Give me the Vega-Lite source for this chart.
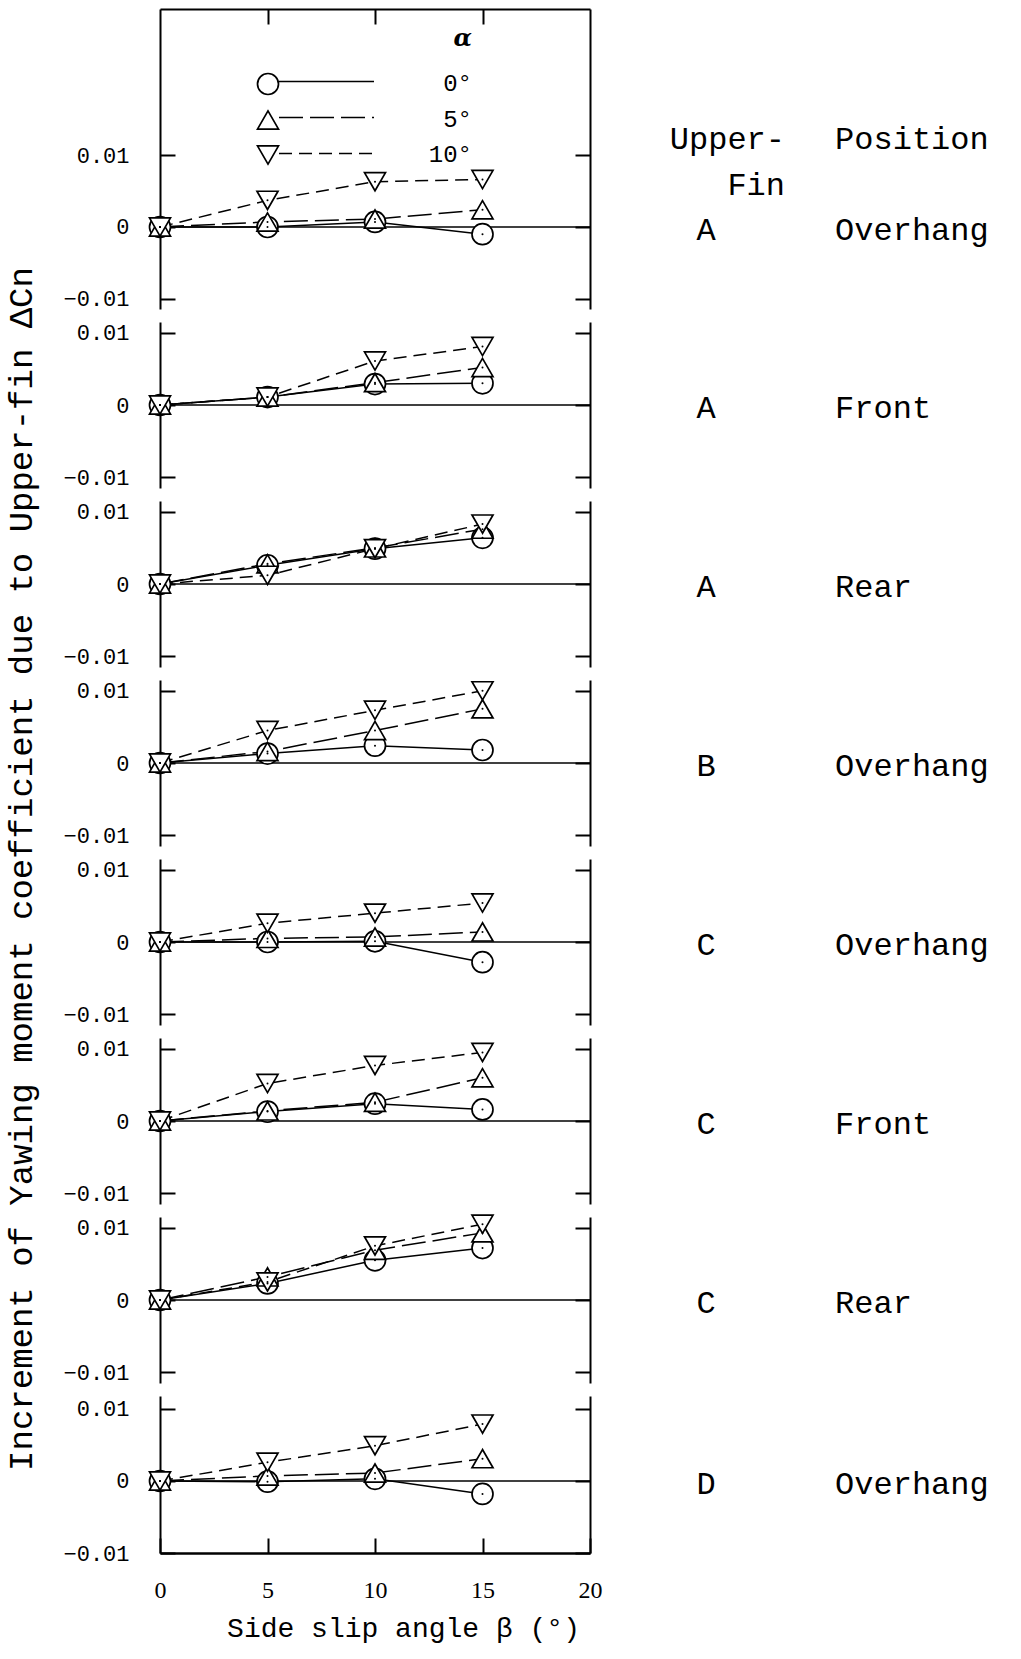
{
"$schema": "https://vega.github.io/schema/vega-lite/v6.json",
"background": "white",
"padding": {"left": 4, "top": 8, "right": 0, "bottom": 8},
"title": {"text": "Increment of Yawing moment coefficient due to Upper-fin ΔCn", "orient": "left", "anchor": "middle", "font": "Liberation Mono", "fontSize": 34, "fontWeight": "normal", "color": "black", "offset": 24, "dx": -44},
"config": {"view": {"stroke": null}, "axis": {"domainColor": "black", "tickColor": "black", "labelColor": "black", "titleColor": "black", "grid": false}},
"datasets": {
"main": [
{"panel":1,"alpha":0,"beta":0,"dcn":0},{"panel":1,"alpha":0,"beta":5,"dcn":0.0},{"panel":1,"alpha":0,"beta":10,"dcn":0.0007},{"panel":1,"alpha":0,"beta":15,"dcn":-0.001},
{"panel":1,"alpha":5,"beta":0,"dcn":0},{"panel":1,"alpha":5,"beta":5,"dcn":0.0007},{"panel":1,"alpha":5,"beta":10,"dcn":0.0011},{"panel":1,"alpha":5,"beta":15,"dcn":0.0024},
{"panel":1,"alpha":10,"beta":0,"dcn":0},{"panel":1,"alpha":10,"beta":5,"dcn":0.0037},{"panel":1,"alpha":10,"beta":10,"dcn":0.0063},{"panel":1,"alpha":10,"beta":15,"dcn":0.0066},
{"panel":2,"alpha":0,"beta":0,"dcn":0},{"panel":2,"alpha":0,"beta":5,"dcn":0.0011},{"panel":2,"alpha":0,"beta":10,"dcn":0.0029},{"panel":2,"alpha":0,"beta":15,"dcn":0.003},
{"panel":2,"alpha":5,"beta":0,"dcn":0},{"panel":2,"alpha":5,"beta":5,"dcn":0.0011},{"panel":2,"alpha":5,"beta":10,"dcn":0.0031},{"panel":2,"alpha":5,"beta":15,"dcn":0.0052},
{"panel":2,"alpha":10,"beta":0,"dcn":0},{"panel":2,"alpha":10,"beta":5,"dcn":0.0011},{"panel":2,"alpha":10,"beta":10,"dcn":0.0061},{"panel":2,"alpha":10,"beta":15,"dcn":0.0081},
{"panel":3,"alpha":0,"beta":0,"dcn":0},{"panel":3,"alpha":0,"beta":5,"dcn":0.0026},{"panel":3,"alpha":0,"beta":10,"dcn":0.0049},{"panel":3,"alpha":0,"beta":15,"dcn":0.0064},
{"panel":3,"alpha":5,"beta":0,"dcn":0},{"panel":3,"alpha":5,"beta":5,"dcn":0.0028},{"panel":3,"alpha":5,"beta":10,"dcn":0.005},{"panel":3,"alpha":5,"beta":15,"dcn":0.0076},
{"panel":3,"alpha":10,"beta":0,"dcn":0},{"panel":3,"alpha":10,"beta":5,"dcn":0.0012},{"panel":3,"alpha":10,"beta":10,"dcn":0.0049},{"panel":3,"alpha":10,"beta":15,"dcn":0.0083},
{"panel":4,"alpha":0,"beta":0,"dcn":0},{"panel":4,"alpha":0,"beta":5,"dcn":0.0013},{"panel":4,"alpha":0,"beta":10,"dcn":0.0024},{"panel":4,"alpha":0,"beta":15,"dcn":0.0018},
{"panel":4,"alpha":5,"beta":0,"dcn":0},{"panel":4,"alpha":5,"beta":5,"dcn":0.0016},{"panel":4,"alpha":5,"beta":10,"dcn":0.0045},{"panel":4,"alpha":5,"beta":15,"dcn":0.0075},
{"panel":4,"alpha":10,"beta":0,"dcn":0},{"panel":4,"alpha":10,"beta":5,"dcn":0.0045},{"panel":4,"alpha":10,"beta":10,"dcn":0.0073},{"panel":4,"alpha":10,"beta":15,"dcn":0.01},
{"panel":5,"alpha":0,"beta":0,"dcn":0},{"panel":5,"alpha":0,"beta":5,"dcn":0.0},{"panel":5,"alpha":0,"beta":10,"dcn":0.0001},{"panel":5,"alpha":0,"beta":15,"dcn":-0.0028},
{"panel":5,"alpha":5,"beta":0,"dcn":0},{"panel":5,"alpha":5,"beta":5,"dcn":0.0005},{"panel":5,"alpha":5,"beta":10,"dcn":0.0007},{"panel":5,"alpha":5,"beta":15,"dcn":0.0014},
{"panel":5,"alpha":10,"beta":0,"dcn":0},{"panel":5,"alpha":10,"beta":5,"dcn":0.0026},{"panel":5,"alpha":10,"beta":10,"dcn":0.004},{"panel":5,"alpha":10,"beta":15,"dcn":0.0054},
{"panel":6,"alpha":0,"beta":0,"dcn":0},{"panel":6,"alpha":0,"beta":5,"dcn":0.0013},{"panel":6,"alpha":0,"beta":10,"dcn":0.0024},{"panel":6,"alpha":0,"beta":15,"dcn":0.0016},
{"panel":6,"alpha":5,"beta":0,"dcn":0},{"panel":6,"alpha":5,"beta":5,"dcn":0.0014},{"panel":6,"alpha":5,"beta":10,"dcn":0.0026},{"panel":6,"alpha":5,"beta":15,"dcn":0.006},
{"panel":6,"alpha":10,"beta":0,"dcn":0},{"panel":6,"alpha":10,"beta":5,"dcn":0.0052},{"panel":6,"alpha":10,"beta":10,"dcn":0.0077},{"panel":6,"alpha":10,"beta":15,"dcn":0.0095},
{"panel":7,"alpha":0,"beta":0,"dcn":0},{"panel":7,"alpha":0,"beta":5,"dcn":0.0023},{"panel":7,"alpha":0,"beta":10,"dcn":0.0055},{"panel":7,"alpha":0,"beta":15,"dcn":0.0072},
{"panel":7,"alpha":5,"beta":0,"dcn":0},{"panel":7,"alpha":5,"beta":5,"dcn":0.0032},{"panel":7,"alpha":5,"beta":10,"dcn":0.0069},{"panel":7,"alpha":5,"beta":15,"dcn":0.0093},
{"panel":7,"alpha":10,"beta":0,"dcn":0},{"panel":7,"alpha":10,"beta":5,"dcn":0.0025},{"panel":7,"alpha":10,"beta":10,"dcn":0.0075},{"panel":7,"alpha":10,"beta":15,"dcn":0.0105},
{"panel":8,"alpha":0,"beta":0,"dcn":0},{"panel":8,"alpha":0,"beta":5,"dcn":-0.0001},{"panel":8,"alpha":0,"beta":10,"dcn":0.0003},{"panel":8,"alpha":0,"beta":15,"dcn":-0.0018},
{"panel":8,"alpha":5,"beta":0,"dcn":0},{"panel":8,"alpha":5,"beta":5,"dcn":0.0007},{"panel":8,"alpha":5,"beta":10,"dcn":0.0011},{"panel":8,"alpha":5,"beta":15,"dcn":0.0031},
{"panel":8,"alpha":10,"beta":0,"dcn":0},{"panel":8,"alpha":10,"beta":5,"dcn":0.0026},{"panel":8,"alpha":10,"beta":10,"dcn":0.0049},{"panel":8,"alpha":10,"beta":15,"dcn":0.0079}
],
"labels": [
{"panel":1,"fin":"A","position":"Overhang"},{"panel":2,"fin":"A","position":"Front"},{"panel":3,"fin":"A","position":"Rear"},{"panel":4,"fin":"B","position":"Overhang"},
{"panel":5,"fin":"C","position":"Overhang"},{"panel":6,"fin":"C","position":"Front"},{"panel":7,"fin":"C","position":"Rear"},{"panel":8,"fin":"D","position":"Overhang"}
]
},
"resolve": {"scale": {"shape": "independent", "strokeDash": "independent"}},
"bounds": "flush",
"spacing": 13,
"vconcat": [
{
"width": 430, "height": 300,
"data": {"name": "main"},
"transform": [{"filter": "datum.panel == 1"}],
"layer": [
{"data": {"values": [{}]}, "mark": {"type": "rule", "color": "black", "strokeWidth": 1.5},
 "encoding": {"y": {"datum": 0, "type": "quantitative", "scale": {"domain": [-0.0114, 0.0303], "nice": false, "zero": false},
  "axis": {"orient": "left", "values": [-0.01, 0, 0.01], "labelExpr": "datum.value == 0 ? '0' : format(datum.value, '.2f')", "tickSize": -15, "tickWidth": 2, "domainWidth": 2, "labelFont": "Liberation Mono", "labelFontSize": 22, "labelPadding": 46, "title": null}}}},
{"transform": [{"filter": "datum.alpha == 0"}], "mark": {"type": "line", "color": "black", "strokeWidth": 1.5},
 "encoding": {
  "x": {"field": "beta", "type": "quantitative", "scale": {"domain": [0, 20], "nice": false, "zero": false}, "axis": {"orient": "top", "values": [5, 10, 15], "labels": false, "tickSize": -15, "tickWidth": 2, "domainWidth": 2, "title": null}},
  "y": {"field": "dcn", "type": "quantitative", "scale": {"domain": [-0.0114, 0.0303], "nice": false, "zero": false}, "axis": {"orient": "right", "values": [-0.01, 0, 0.01], "labels": false, "tickSize": -15, "tickWidth": 2, "domainWidth": 2, "title": null}}}},
{"transform": [{"filter": "datum.alpha == 5"}], "mark": {"type": "line", "color": "black", "strokeWidth": 1.5, "strokeDash": [24, 7]},
 "encoding": {
  "x": {"field": "beta", "type": "quantitative", "scale": {"domain": [0, 20], "nice": false, "zero": false}, "axis": {"orient": "top", "values": [5, 10, 15], "labels": false, "tickSize": -15, "tickWidth": 2, "domainWidth": 2, "title": null}},
  "y": {"field": "dcn", "type": "quantitative", "scale": {"domain": [-0.0114, 0.0303], "nice": false, "zero": false}, "axis": null}}},
{"transform": [{"filter": "datum.alpha == 10"}], "mark": {"type": "line", "color": "black", "strokeWidth": 1.5, "strokeDash": [13, 7]},
 "encoding": {
  "x": {"field": "beta", "type": "quantitative", "scale": {"domain": [0, 20], "nice": false, "zero": false}, "axis": {"orient": "top", "values": [5, 10, 15], "labels": false, "tickSize": -15, "tickWidth": 2, "domainWidth": 2, "title": null}},
  "y": {"field": "dcn", "type": "quantitative", "scale": {"domain": [-0.0114, 0.0303], "nice": false, "zero": false}, "axis": null}}},
{"transform": [{"filter": "false"}], "mark": {"type": "line", "color": "black", "strokeWidth": 1.5},
 "encoding": {
  "x": {"field": "beta", "type": "quantitative", "scale": {"domain": [0, 20], "nice": false, "zero": false}, "axis": {"orient": "top", "values": [5, 10, 15], "labels": false, "tickSize": -15, "tickWidth": 2, "domainWidth": 2, "title": null}},
  "y": {"field": "dcn", "type": "quantitative", "scale": {"domain": [-0.0114, 0.0303], "nice": false, "zero": false}, "axis": null},
  "strokeDash": {"field": "alpha", "type": "nominal", "scale": {"domain": ["0", "5", "10"], "range": [[1, 0], [24, 7], [13, 7]]},
   "legend": {"orient": "none", "legendX": 118, "legendY": 59, "title": null, "clipHeight": 27,
    "labelOpacity": 0, "labelFont": "Liberation Mono", "labelFontSize": 24, "labelOffset": 8, "symbolType": "stroke", "symbolSize": 9025, "symbolStrokeWidth": 1.5, "symbolStrokeColor": "black", "rowPadding": 9, "padding": 0}}}},
{"mark": {"type": "point", "fill": "white", "stroke": "black", "strokeWidth": 1.7, "size": 441, "opacity": 1},
 "encoding": {
  "x": {"field": "beta", "type": "quantitative", "scale": {"domain": [0, 20], "nice": false, "zero": false}, "axis": {"orient": "top", "values": [5, 10, 15], "labels": false, "tickSize": -15, "tickWidth": 2, "domainWidth": 2, "title": null}},
  "y": {"field": "dcn", "type": "quantitative", "scale": {"domain": [-0.0114, 0.0303], "nice": false, "zero": false}, "axis": null},
  "shape": {"field": "alpha", "type": "nominal", "scale": {"domain": [0, 5, 10], "range": ["circle", "triangle-up", "triangle-down"]},
   "legend": {"orient": "none", "legendX": 96, "legendY": 18, "title": "α", "titleFont": "DejaVu Serif", "titleFontStyle": "italic", "titleFontWeight": "bold", "titleFontSize": 24, "titleColor": "black", "titleAnchor": "end", "titlePadding": 21,
    "labelFont": "Liberation Mono", "labelFontSize": 24, "labelColor": "black", "labelAlign": "right", "labelOffset": 192, "labelExpr": "datum.label + '°'", "symbolSize": 441, "rowPadding": 9, "padding": 0, "symbolStrokeWidth": 1.7}}}},
{"mark": {"type": "point", "filled": true, "color": "black", "size": 4, "opacity": 1},
 "encoding": {
  "x": {"field": "beta", "type": "quantitative", "scale": {"domain": [0, 20], "nice": false, "zero": false}, "axis": {"orient": "top", "values": [5, 10, 15], "labels": false, "tickSize": -15, "tickWidth": 2, "domainWidth": 2, "title": null}},
  "y": {"field": "dcn", "type": "quantitative", "scale": {"domain": [-0.0114, 0.0303], "nice": false, "zero": false}, "axis": null}}},
{"data": {"name": "labels"}, "transform": [{"filter": "datum.panel == 1"}], "mark": {"type": "text", "font": "Liberation Mono", "fontSize": 32, "align": "center", "baseline": "middle", "dy": 3, "color": "black"},
 "encoding": {"x": {"datum": 25.4, "type": "quantitative", "scale": {"domain": [0, 20], "nice": false, "zero": false}, "axis": {"orient": "top", "values": [5, 10, 15], "labels": false, "tickSize": -15, "tickWidth": 2, "domainWidth": 2, "title": null}}, "y": {"datum": 0, "type": "quantitative", "scale": {"domain": [-0.0114, 0.0303], "nice": false, "zero": false}, "axis": null}, "text": {"field": "fin"}}},
{"data": {"name": "labels"}, "transform": [{"filter": "datum.panel == 1"}], "mark": {"type": "text", "font": "Liberation Mono", "fontSize": 32, "align": "left", "baseline": "middle", "dy": 3, "color": "black"},
 "encoding": {"x": {"datum": 31.4, "type": "quantitative", "scale": {"domain": [0, 20], "nice": false, "zero": false}, "axis": {"orient": "top", "values": [5, 10, 15], "labels": false, "tickSize": -15, "tickWidth": 2, "domainWidth": 2, "title": null}}, "y": {"datum": 0, "type": "quantitative", "scale": {"domain": [-0.0114, 0.0303], "nice": false, "zero": false}, "axis": null}, "text": {"field": "position"}}},
{"data": {"values": [{}]}, "mark": {"type": "text", "text": "Upper-", "font": "Liberation Mono", "fontSize": 32, "align": "right", "baseline": "middle", "color": "black"},
 "encoding": {"x": {"datum": 29.07, "type": "quantitative", "scale": {"domain": [0, 20], "nice": false, "zero": false}, "axis": {"orient": "top", "values": [5, 10, 15], "labels": false, "tickSize": -15, "tickWidth": 2, "domainWidth": 2, "title": null}}, "y": {"datum": 0.0122, "type": "quantitative", "scale": {"domain": [-0.0114, 0.0303], "nice": false, "zero": false}, "axis": null}}},
{"data": {"values": [{}]}, "mark": {"type": "text", "text": "Fin", "font": "Liberation Mono", "fontSize": 32, "align": "right", "baseline": "middle", "color": "black"},
 "encoding": {"x": {"datum": 29.07, "type": "quantitative", "scale": {"domain": [0, 20], "nice": false, "zero": false}, "axis": {"orient": "top", "values": [5, 10, 15], "labels": false, "tickSize": -15, "tickWidth": 2, "domainWidth": 2, "title": null}}, "y": {"datum": 0.0058, "type": "quantitative", "scale": {"domain": [-0.0114, 0.0303], "nice": false, "zero": false}, "axis": null}}},
{"data": {"values": [{}]}, "mark": {"type": "text", "text": "Position", "font": "Liberation Mono", "fontSize": 32, "align": "left", "baseline": "middle", "color": "black"},
 "encoding": {"x": {"datum": 31.4, "type": "quantitative", "scale": {"domain": [0, 20], "nice": false, "zero": false}, "axis": {"orient": "top", "values": [5, 10, 15], "labels": false, "tickSize": -15, "tickWidth": 2, "domainWidth": 2, "title": null}}, "y": {"datum": 0.0122, "type": "quantitative", "scale": {"domain": [-0.0114, 0.0303], "nice": false, "zero": false}, "axis": null}}}
],
"resolve": {"axis": {"y": "independent"}}
},
{
"width": 430, "height": 166,
"data": {"name": "main"},
"transform": [{"filter": "datum.panel == 2"}],
"layer": [
{"data": {"values": [{}]}, "mark": {"type": "rule", "color": "black", "strokeWidth": 1.5},
 "encoding": {"y": {"datum": 0, "type": "quantitative", "scale": {"domain": [-0.0115, 0.0115], "nice": false, "zero": false},
  "axis": {"orient": "left", "values": [-0.01, 0, 0.01], "labelExpr": "datum.value == 0 ? '0' : format(datum.value, '.2f')", "tickSize": -15, "tickWidth": 2, "domainWidth": 2, "labelFont": "Liberation Mono", "labelFontSize": 22, "labelPadding": 46, "title": null}}}},
{"transform": [{"filter": "datum.alpha == 0"}], "mark": {"type": "line", "color": "black", "strokeWidth": 1.5},
 "encoding": {
  "x": {"field": "beta", "type": "quantitative", "scale": {"domain": [0, 20], "nice": false, "zero": false}, "axis": null},
  "y": {"field": "dcn", "type": "quantitative", "scale": {"domain": [-0.0115, 0.0115], "nice": false, "zero": false}, "axis": {"orient": "right", "values": [-0.01, 0, 0.01], "labels": false, "tickSize": -15, "tickWidth": 2, "domainWidth": 2, "title": null}}}},
{"transform": [{"filter": "datum.alpha == 5"}], "mark": {"type": "line", "color": "black", "strokeWidth": 1.5, "strokeDash": [24, 7]},
 "encoding": {
  "x": {"field": "beta", "type": "quantitative", "scale": {"domain": [0, 20], "nice": false, "zero": false}, "axis": null},
  "y": {"field": "dcn", "type": "quantitative", "scale": {"domain": [-0.0115, 0.0115], "nice": false, "zero": false}, "axis": null}}},
{"transform": [{"filter": "datum.alpha == 10"}], "mark": {"type": "line", "color": "black", "strokeWidth": 1.5, "strokeDash": [13, 7]},
 "encoding": {
  "x": {"field": "beta", "type": "quantitative", "scale": {"domain": [0, 20], "nice": false, "zero": false}, "axis": null},
  "y": {"field": "dcn", "type": "quantitative", "scale": {"domain": [-0.0115, 0.0115], "nice": false, "zero": false}, "axis": null}}},
{"mark": {"type": "point", "fill": "white", "stroke": "black", "strokeWidth": 1.7, "size": 441, "opacity": 1},
 "encoding": {
  "x": {"field": "beta", "type": "quantitative", "scale": {"domain": [0, 20], "nice": false, "zero": false}, "axis": null},
  "y": {"field": "dcn", "type": "quantitative", "scale": {"domain": [-0.0115, 0.0115], "nice": false, "zero": false}, "axis": null},
  "shape": {"field": "alpha", "type": "nominal", "scale": {"domain": [0, 5, 10], "range": ["circle", "triangle-up", "triangle-down"]}, "legend": null}}},
{"mark": {"type": "point", "filled": true, "color": "black", "size": 4, "opacity": 1},
 "encoding": {
  "x": {"field": "beta", "type": "quantitative", "scale": {"domain": [0, 20], "nice": false, "zero": false}, "axis": null},
  "y": {"field": "dcn", "type": "quantitative", "scale": {"domain": [-0.0115, 0.0115], "nice": false, "zero": false}, "axis": null}}},
{"data": {"name": "labels"}, "transform": [{"filter": "datum.panel == 2"}], "mark": {"type": "text", "font": "Liberation Mono", "fontSize": 32, "align": "center", "baseline": "middle", "dy": 3, "color": "black"},
 "encoding": {"x": {"datum": 25.4, "type": "quantitative", "scale": {"domain": [0, 20], "nice": false, "zero": false}, "axis": null}, "y": {"datum": 0, "type": "quantitative", "scale": {"domain": [-0.0115, 0.0115], "nice": false, "zero": false}, "axis": null}, "text": {"field": "fin"}}},
{"data": {"name": "labels"}, "transform": [{"filter": "datum.panel == 2"}], "mark": {"type": "text", "font": "Liberation Mono", "fontSize": 32, "align": "left", "baseline": "middle", "dy": 3, "color": "black"},
 "encoding": {"x": {"datum": 31.4, "type": "quantitative", "scale": {"domain": [0, 20], "nice": false, "zero": false}, "axis": null}, "y": {"datum": 0, "type": "quantitative", "scale": {"domain": [-0.0115, 0.0115], "nice": false, "zero": false}, "axis": null}, "text": {"field": "position"}}}
],
"resolve": {"axis": {"y": "independent"}}
},
{
"width": 430, "height": 166,
"data": {"name": "main"},
"transform": [{"filter": "datum.panel == 3"}],
"layer": [
{"data": {"values": [{}]}, "mark": {"type": "rule", "color": "black", "strokeWidth": 1.5},
 "encoding": {"y": {"datum": 0, "type": "quantitative", "scale": {"domain": [-0.0115, 0.0115], "nice": false, "zero": false},
  "axis": {"orient": "left", "values": [-0.01, 0, 0.01], "labelExpr": "datum.value == 0 ? '0' : format(datum.value, '.2f')", "tickSize": -15, "tickWidth": 2, "domainWidth": 2, "labelFont": "Liberation Mono", "labelFontSize": 22, "labelPadding": 46, "title": null}}}},
{"transform": [{"filter": "datum.alpha == 0"}], "mark": {"type": "line", "color": "black", "strokeWidth": 1.5},
 "encoding": {
  "x": {"field": "beta", "type": "quantitative", "scale": {"domain": [0, 20], "nice": false, "zero": false}, "axis": null},
  "y": {"field": "dcn", "type": "quantitative", "scale": {"domain": [-0.0115, 0.0115], "nice": false, "zero": false}, "axis": {"orient": "right", "values": [-0.01, 0, 0.01], "labels": false, "tickSize": -15, "tickWidth": 2, "domainWidth": 2, "title": null}}}},
{"transform": [{"filter": "datum.alpha == 5"}], "mark": {"type": "line", "color": "black", "strokeWidth": 1.5, "strokeDash": [24, 7]},
 "encoding": {
  "x": {"field": "beta", "type": "quantitative", "scale": {"domain": [0, 20], "nice": false, "zero": false}, "axis": null},
  "y": {"field": "dcn", "type": "quantitative", "scale": {"domain": [-0.0115, 0.0115], "nice": false, "zero": false}, "axis": null}}},
{"transform": [{"filter": "datum.alpha == 10"}], "mark": {"type": "line", "color": "black", "strokeWidth": 1.5, "strokeDash": [13, 7]},
 "encoding": {
  "x": {"field": "beta", "type": "quantitative", "scale": {"domain": [0, 20], "nice": false, "zero": false}, "axis": null},
  "y": {"field": "dcn", "type": "quantitative", "scale": {"domain": [-0.0115, 0.0115], "nice": false, "zero": false}, "axis": null}}},
{"mark": {"type": "point", "fill": "white", "stroke": "black", "strokeWidth": 1.7, "size": 441, "opacity": 1},
 "encoding": {
  "x": {"field": "beta", "type": "quantitative", "scale": {"domain": [0, 20], "nice": false, "zero": false}, "axis": null},
  "y": {"field": "dcn", "type": "quantitative", "scale": {"domain": [-0.0115, 0.0115], "nice": false, "zero": false}, "axis": null},
  "shape": {"field": "alpha", "type": "nominal", "scale": {"domain": [0, 5, 10], "range": ["circle", "triangle-up", "triangle-down"]}, "legend": null}}},
{"mark": {"type": "point", "filled": true, "color": "black", "size": 4, "opacity": 1},
 "encoding": {
  "x": {"field": "beta", "type": "quantitative", "scale": {"domain": [0, 20], "nice": false, "zero": false}, "axis": null},
  "y": {"field": "dcn", "type": "quantitative", "scale": {"domain": [-0.0115, 0.0115], "nice": false, "zero": false}, "axis": null}}},
{"data": {"name": "labels"}, "transform": [{"filter": "datum.panel == 3"}], "mark": {"type": "text", "font": "Liberation Mono", "fontSize": 32, "align": "center", "baseline": "middle", "dy": 3, "color": "black"},
 "encoding": {"x": {"datum": 25.4, "type": "quantitative", "scale": {"domain": [0, 20], "nice": false, "zero": false}, "axis": null}, "y": {"datum": 0, "type": "quantitative", "scale": {"domain": [-0.0115, 0.0115], "nice": false, "zero": false}, "axis": null}, "text": {"field": "fin"}}},
{"data": {"name": "labels"}, "transform": [{"filter": "datum.panel == 3"}], "mark": {"type": "text", "font": "Liberation Mono", "fontSize": 32, "align": "left", "baseline": "middle", "dy": 3, "color": "black"},
 "encoding": {"x": {"datum": 31.4, "type": "quantitative", "scale": {"domain": [0, 20], "nice": false, "zero": false}, "axis": null}, "y": {"datum": 0, "type": "quantitative", "scale": {"domain": [-0.0115, 0.0115], "nice": false, "zero": false}, "axis": null}, "text": {"field": "position"}}}
],
"resolve": {"axis": {"y": "independent"}}
},
{
"width": 430, "height": 166,
"data": {"name": "main"},
"transform": [{"filter": "datum.panel == 4"}],
"layer": [
{"data": {"values": [{}]}, "mark": {"type": "rule", "color": "black", "strokeWidth": 1.5},
 "encoding": {"y": {"datum": 0, "type": "quantitative", "scale": {"domain": [-0.0115, 0.0115], "nice": false, "zero": false},
  "axis": {"orient": "left", "values": [-0.01, 0, 0.01], "labelExpr": "datum.value == 0 ? '0' : format(datum.value, '.2f')", "tickSize": -15, "tickWidth": 2, "domainWidth": 2, "labelFont": "Liberation Mono", "labelFontSize": 22, "labelPadding": 46, "title": null}}}},
{"transform": [{"filter": "datum.alpha == 0"}], "mark": {"type": "line", "color": "black", "strokeWidth": 1.5},
 "encoding": {
  "x": {"field": "beta", "type": "quantitative", "scale": {"domain": [0, 20], "nice": false, "zero": false}, "axis": null},
  "y": {"field": "dcn", "type": "quantitative", "scale": {"domain": [-0.0115, 0.0115], "nice": false, "zero": false}, "axis": {"orient": "right", "values": [-0.01, 0, 0.01], "labels": false, "tickSize": -15, "tickWidth": 2, "domainWidth": 2, "title": null}}}},
{"transform": [{"filter": "datum.alpha == 5"}], "mark": {"type": "line", "color": "black", "strokeWidth": 1.5, "strokeDash": [24, 7]},
 "encoding": {
  "x": {"field": "beta", "type": "quantitative", "scale": {"domain": [0, 20], "nice": false, "zero": false}, "axis": null},
  "y": {"field": "dcn", "type": "quantitative", "scale": {"domain": [-0.0115, 0.0115], "nice": false, "zero": false}, "axis": null}}},
{"transform": [{"filter": "datum.alpha == 10"}], "mark": {"type": "line", "color": "black", "strokeWidth": 1.5, "strokeDash": [13, 7]},
 "encoding": {
  "x": {"field": "beta", "type": "quantitative", "scale": {"domain": [0, 20], "nice": false, "zero": false}, "axis": null},
  "y": {"field": "dcn", "type": "quantitative", "scale": {"domain": [-0.0115, 0.0115], "nice": false, "zero": false}, "axis": null}}},
{"mark": {"type": "point", "fill": "white", "stroke": "black", "strokeWidth": 1.7, "size": 441, "opacity": 1},
 "encoding": {
  "x": {"field": "beta", "type": "quantitative", "scale": {"domain": [0, 20], "nice": false, "zero": false}, "axis": null},
  "y": {"field": "dcn", "type": "quantitative", "scale": {"domain": [-0.0115, 0.0115], "nice": false, "zero": false}, "axis": null},
  "shape": {"field": "alpha", "type": "nominal", "scale": {"domain": [0, 5, 10], "range": ["circle", "triangle-up", "triangle-down"]}, "legend": null}}},
{"mark": {"type": "point", "filled": true, "color": "black", "size": 4, "opacity": 1},
 "encoding": {
  "x": {"field": "beta", "type": "quantitative", "scale": {"domain": [0, 20], "nice": false, "zero": false}, "axis": null},
  "y": {"field": "dcn", "type": "quantitative", "scale": {"domain": [-0.0115, 0.0115], "nice": false, "zero": false}, "axis": null}}},
{"data": {"name": "labels"}, "transform": [{"filter": "datum.panel == 4"}], "mark": {"type": "text", "font": "Liberation Mono", "fontSize": 32, "align": "center", "baseline": "middle", "dy": 3, "color": "black"},
 "encoding": {"x": {"datum": 25.4, "type": "quantitative", "scale": {"domain": [0, 20], "nice": false, "zero": false}, "axis": null}, "y": {"datum": 0, "type": "quantitative", "scale": {"domain": [-0.0115, 0.0115], "nice": false, "zero": false}, "axis": null}, "text": {"field": "fin"}}},
{"data": {"name": "labels"}, "transform": [{"filter": "datum.panel == 4"}], "mark": {"type": "text", "font": "Liberation Mono", "fontSize": 32, "align": "left", "baseline": "middle", "dy": 3, "color": "black"},
 "encoding": {"x": {"datum": 31.4, "type": "quantitative", "scale": {"domain": [0, 20], "nice": false, "zero": false}, "axis": null}, "y": {"datum": 0, "type": "quantitative", "scale": {"domain": [-0.0115, 0.0115], "nice": false, "zero": false}, "axis": null}, "text": {"field": "position"}}}
],
"resolve": {"axis": {"y": "independent"}}
},
{
"width": 430, "height": 166,
"data": {"name": "main"},
"transform": [{"filter": "datum.panel == 5"}],
"layer": [
{"data": {"values": [{}]}, "mark": {"type": "rule", "color": "black", "strokeWidth": 1.5},
 "encoding": {"y": {"datum": 0, "type": "quantitative", "scale": {"domain": [-0.0115, 0.0115], "nice": false, "zero": false},
  "axis": {"orient": "left", "values": [-0.01, 0, 0.01], "labelExpr": "datum.value == 0 ? '0' : format(datum.value, '.2f')", "tickSize": -15, "tickWidth": 2, "domainWidth": 2, "labelFont": "Liberation Mono", "labelFontSize": 22, "labelPadding": 46, "title": null}}}},
{"transform": [{"filter": "datum.alpha == 0"}], "mark": {"type": "line", "color": "black", "strokeWidth": 1.5},
 "encoding": {
  "x": {"field": "beta", "type": "quantitative", "scale": {"domain": [0, 20], "nice": false, "zero": false}, "axis": null},
  "y": {"field": "dcn", "type": "quantitative", "scale": {"domain": [-0.0115, 0.0115], "nice": false, "zero": false}, "axis": {"orient": "right", "values": [-0.01, 0, 0.01], "labels": false, "tickSize": -15, "tickWidth": 2, "domainWidth": 2, "title": null}}}},
{"transform": [{"filter": "datum.alpha == 5"}], "mark": {"type": "line", "color": "black", "strokeWidth": 1.5, "strokeDash": [24, 7]},
 "encoding": {
  "x": {"field": "beta", "type": "quantitative", "scale": {"domain": [0, 20], "nice": false, "zero": false}, "axis": null},
  "y": {"field": "dcn", "type": "quantitative", "scale": {"domain": [-0.0115, 0.0115], "nice": false, "zero": false}, "axis": null}}},
{"transform": [{"filter": "datum.alpha == 10"}], "mark": {"type": "line", "color": "black", "strokeWidth": 1.5, "strokeDash": [13, 7]},
 "encoding": {
  "x": {"field": "beta", "type": "quantitative", "scale": {"domain": [0, 20], "nice": false, "zero": false}, "axis": null},
  "y": {"field": "dcn", "type": "quantitative", "scale": {"domain": [-0.0115, 0.0115], "nice": false, "zero": false}, "axis": null}}},
{"mark": {"type": "point", "fill": "white", "stroke": "black", "strokeWidth": 1.7, "size": 441, "opacity": 1},
 "encoding": {
  "x": {"field": "beta", "type": "quantitative", "scale": {"domain": [0, 20], "nice": false, "zero": false}, "axis": null},
  "y": {"field": "dcn", "type": "quantitative", "scale": {"domain": [-0.0115, 0.0115], "nice": false, "zero": false}, "axis": null},
  "shape": {"field": "alpha", "type": "nominal", "scale": {"domain": [0, 5, 10], "range": ["circle", "triangle-up", "triangle-down"]}, "legend": null}}},
{"mark": {"type": "point", "filled": true, "color": "black", "size": 4, "opacity": 1},
 "encoding": {
  "x": {"field": "beta", "type": "quantitative", "scale": {"domain": [0, 20], "nice": false, "zero": false}, "axis": null},
  "y": {"field": "dcn", "type": "quantitative", "scale": {"domain": [-0.0115, 0.0115], "nice": false, "zero": false}, "axis": null}}},
{"data": {"name": "labels"}, "transform": [{"filter": "datum.panel == 5"}], "mark": {"type": "text", "font": "Liberation Mono", "fontSize": 32, "align": "center", "baseline": "middle", "dy": 3, "color": "black"},
 "encoding": {"x": {"datum": 25.4, "type": "quantitative", "scale": {"domain": [0, 20], "nice": false, "zero": false}, "axis": null}, "y": {"datum": 0, "type": "quantitative", "scale": {"domain": [-0.0115, 0.0115], "nice": false, "zero": false}, "axis": null}, "text": {"field": "fin"}}},
{"data": {"name": "labels"}, "transform": [{"filter": "datum.panel == 5"}], "mark": {"type": "text", "font": "Liberation Mono", "fontSize": 32, "align": "left", "baseline": "middle", "dy": 3, "color": "black"},
 "encoding": {"x": {"datum": 31.4, "type": "quantitative", "scale": {"domain": [0, 20], "nice": false, "zero": false}, "axis": null}, "y": {"datum": 0, "type": "quantitative", "scale": {"domain": [-0.0115, 0.0115], "nice": false, "zero": false}, "axis": null}, "text": {"field": "position"}}}
],
"resolve": {"axis": {"y": "independent"}}
},
{
"width": 430, "height": 166,
"data": {"name": "main"},
"transform": [{"filter": "datum.panel == 6"}],
"layer": [
{"data": {"values": [{}]}, "mark": {"type": "rule", "color": "black", "strokeWidth": 1.5},
 "encoding": {"y": {"datum": 0, "type": "quantitative", "scale": {"domain": [-0.0115, 0.0115], "nice": false, "zero": false},
  "axis": {"orient": "left", "values": [-0.01, 0, 0.01], "labelExpr": "datum.value == 0 ? '0' : format(datum.value, '.2f')", "tickSize": -15, "tickWidth": 2, "domainWidth": 2, "labelFont": "Liberation Mono", "labelFontSize": 22, "labelPadding": 46, "title": null}}}},
{"transform": [{"filter": "datum.alpha == 0"}], "mark": {"type": "line", "color": "black", "strokeWidth": 1.5},
 "encoding": {
  "x": {"field": "beta", "type": "quantitative", "scale": {"domain": [0, 20], "nice": false, "zero": false}, "axis": null},
  "y": {"field": "dcn", "type": "quantitative", "scale": {"domain": [-0.0115, 0.0115], "nice": false, "zero": false}, "axis": {"orient": "right", "values": [-0.01, 0, 0.01], "labels": false, "tickSize": -15, "tickWidth": 2, "domainWidth": 2, "title": null}}}},
{"transform": [{"filter": "datum.alpha == 5"}], "mark": {"type": "line", "color": "black", "strokeWidth": 1.5, "strokeDash": [24, 7]},
 "encoding": {
  "x": {"field": "beta", "type": "quantitative", "scale": {"domain": [0, 20], "nice": false, "zero": false}, "axis": null},
  "y": {"field": "dcn", "type": "quantitative", "scale": {"domain": [-0.0115, 0.0115], "nice": false, "zero": false}, "axis": null}}},
{"transform": [{"filter": "datum.alpha == 10"}], "mark": {"type": "line", "color": "black", "strokeWidth": 1.5, "strokeDash": [13, 7]},
 "encoding": {
  "x": {"field": "beta", "type": "quantitative", "scale": {"domain": [0, 20], "nice": false, "zero": false}, "axis": null},
  "y": {"field": "dcn", "type": "quantitative", "scale": {"domain": [-0.0115, 0.0115], "nice": false, "zero": false}, "axis": null}}},
{"mark": {"type": "point", "fill": "white", "stroke": "black", "strokeWidth": 1.7, "size": 441, "opacity": 1},
 "encoding": {
  "x": {"field": "beta", "type": "quantitative", "scale": {"domain": [0, 20], "nice": false, "zero": false}, "axis": null},
  "y": {"field": "dcn", "type": "quantitative", "scale": {"domain": [-0.0115, 0.0115], "nice": false, "zero": false}, "axis": null},
  "shape": {"field": "alpha", "type": "nominal", "scale": {"domain": [0, 5, 10], "range": ["circle", "triangle-up", "triangle-down"]}, "legend": null}}},
{"mark": {"type": "point", "filled": true, "color": "black", "size": 4, "opacity": 1},
 "encoding": {
  "x": {"field": "beta", "type": "quantitative", "scale": {"domain": [0, 20], "nice": false, "zero": false}, "axis": null},
  "y": {"field": "dcn", "type": "quantitative", "scale": {"domain": [-0.0115, 0.0115], "nice": false, "zero": false}, "axis": null}}},
{"data": {"name": "labels"}, "transform": [{"filter": "datum.panel == 6"}], "mark": {"type": "text", "font": "Liberation Mono", "fontSize": 32, "align": "center", "baseline": "middle", "dy": 3, "color": "black"},
 "encoding": {"x": {"datum": 25.4, "type": "quantitative", "scale": {"domain": [0, 20], "nice": false, "zero": false}, "axis": null}, "y": {"datum": 0, "type": "quantitative", "scale": {"domain": [-0.0115, 0.0115], "nice": false, "zero": false}, "axis": null}, "text": {"field": "fin"}}},
{"data": {"name": "labels"}, "transform": [{"filter": "datum.panel == 6"}], "mark": {"type": "text", "font": "Liberation Mono", "fontSize": 32, "align": "left", "baseline": "middle", "dy": 3, "color": "black"},
 "encoding": {"x": {"datum": 31.4, "type": "quantitative", "scale": {"domain": [0, 20], "nice": false, "zero": false}, "axis": null}, "y": {"datum": 0, "type": "quantitative", "scale": {"domain": [-0.0115, 0.0115], "nice": false, "zero": false}, "axis": null}, "text": {"field": "position"}}}
],
"resolve": {"axis": {"y": "independent"}}
},
{
"width": 430, "height": 166,
"data": {"name": "main"},
"transform": [{"filter": "datum.panel == 7"}],
"layer": [
{"data": {"values": [{}]}, "mark": {"type": "rule", "color": "black", "strokeWidth": 1.5},
 "encoding": {"y": {"datum": 0, "type": "quantitative", "scale": {"domain": [-0.0115, 0.0115], "nice": false, "zero": false},
  "axis": {"orient": "left", "values": [-0.01, 0, 0.01], "labelExpr": "datum.value == 0 ? '0' : format(datum.value, '.2f')", "tickSize": -15, "tickWidth": 2, "domainWidth": 2, "labelFont": "Liberation Mono", "labelFontSize": 22, "labelPadding": 46, "title": null}}}},
{"transform": [{"filter": "datum.alpha == 0"}], "mark": {"type": "line", "color": "black", "strokeWidth": 1.5},
 "encoding": {
  "x": {"field": "beta", "type": "quantitative", "scale": {"domain": [0, 20], "nice": false, "zero": false}, "axis": null},
  "y": {"field": "dcn", "type": "quantitative", "scale": {"domain": [-0.0115, 0.0115], "nice": false, "zero": false}, "axis": {"orient": "right", "values": [-0.01, 0, 0.01], "labels": false, "tickSize": -15, "tickWidth": 2, "domainWidth": 2, "title": null}}}},
{"transform": [{"filter": "datum.alpha == 5"}], "mark": {"type": "line", "color": "black", "strokeWidth": 1.5, "strokeDash": [24, 7]},
 "encoding": {
  "x": {"field": "beta", "type": "quantitative", "scale": {"domain": [0, 20], "nice": false, "zero": false}, "axis": null},
  "y": {"field": "dcn", "type": "quantitative", "scale": {"domain": [-0.0115, 0.0115], "nice": false, "zero": false}, "axis": null}}},
{"transform": [{"filter": "datum.alpha == 10"}], "mark": {"type": "line", "color": "black", "strokeWidth": 1.5, "strokeDash": [13, 7]},
 "encoding": {
  "x": {"field": "beta", "type": "quantitative", "scale": {"domain": [0, 20], "nice": false, "zero": false}, "axis": null},
  "y": {"field": "dcn", "type": "quantitative", "scale": {"domain": [-0.0115, 0.0115], "nice": false, "zero": false}, "axis": null}}},
{"mark": {"type": "point", "fill": "white", "stroke": "black", "strokeWidth": 1.7, "size": 441, "opacity": 1},
 "encoding": {
  "x": {"field": "beta", "type": "quantitative", "scale": {"domain": [0, 20], "nice": false, "zero": false}, "axis": null},
  "y": {"field": "dcn", "type": "quantitative", "scale": {"domain": [-0.0115, 0.0115], "nice": false, "zero": false}, "axis": null},
  "shape": {"field": "alpha", "type": "nominal", "scale": {"domain": [0, 5, 10], "range": ["circle", "triangle-up", "triangle-down"]}, "legend": null}}},
{"mark": {"type": "point", "filled": true, "color": "black", "size": 4, "opacity": 1},
 "encoding": {
  "x": {"field": "beta", "type": "quantitative", "scale": {"domain": [0, 20], "nice": false, "zero": false}, "axis": null},
  "y": {"field": "dcn", "type": "quantitative", "scale": {"domain": [-0.0115, 0.0115], "nice": false, "zero": false}, "axis": null}}},
{"data": {"name": "labels"}, "transform": [{"filter": "datum.panel == 7"}], "mark": {"type": "text", "font": "Liberation Mono", "fontSize": 32, "align": "center", "baseline": "middle", "dy": 3, "color": "black"},
 "encoding": {"x": {"datum": 25.4, "type": "quantitative", "scale": {"domain": [0, 20], "nice": false, "zero": false}, "axis": null}, "y": {"datum": 0, "type": "quantitative", "scale": {"domain": [-0.0115, 0.0115], "nice": false, "zero": false}, "axis": null}, "text": {"field": "fin"}}},
{"data": {"name": "labels"}, "transform": [{"filter": "datum.panel == 7"}], "mark": {"type": "text", "font": "Liberation Mono", "fontSize": 32, "align": "left", "baseline": "middle", "dy": 3, "color": "black"},
 "encoding": {"x": {"datum": 31.4, "type": "quantitative", "scale": {"domain": [0, 20], "nice": false, "zero": false}, "axis": null}, "y": {"datum": 0, "type": "quantitative", "scale": {"domain": [-0.0115, 0.0115], "nice": false, "zero": false}, "axis": null}, "text": {"field": "position"}}}
],
"resolve": {"axis": {"y": "independent"}}
},
{
"width": 430, "height": 157,
"data": {"name": "main"},
"transform": [{"filter": "datum.panel == 8"}],
"layer": [
{"data": {"values": [{}]}, "mark": {"type": "rule", "color": "black", "strokeWidth": 1.5},
 "encoding": {"y": {"datum": 0, "type": "quantitative", "scale": {"domain": [-0.01, 0.0118], "nice": false, "zero": false},
  "axis": {"orient": "left", "values": [-0.01, 0, 0.01], "labelExpr": "datum.value == 0 ? '0' : format(datum.value, '.2f')", "tickSize": -15, "tickWidth": 2, "domainWidth": 2, "labelFont": "Liberation Mono", "labelFontSize": 22, "labelPadding": 46, "title": null}}}},
{"transform": [{"filter": "datum.alpha == 0"}], "mark": {"type": "line", "color": "black", "strokeWidth": 1.5},
 "encoding": {
  "x": {"field": "beta", "type": "quantitative", "scale": {"domain": [0, 20], "nice": false, "zero": false}, "axis": {"orient": "bottom", "values": [0, 5, 10, 15, 20], "tickSize": -15, "tickWidth": 2, "domainWidth": 2.5, "labelFlush": false, "labelFont": "Liberation Serif", "labelFontSize": 24, "labelPadding": 40, "title": "Side slip angle β (°)", "titleFont": "Liberation Mono", "titleFontSize": 28, "titleFontWeight": "normal", "titlePadding": 12, "titleX": 243}},
  "y": {"field": "dcn", "type": "quantitative", "scale": {"domain": [-0.01, 0.0118], "nice": false, "zero": false}, "axis": {"orient": "right", "values": [-0.01, 0, 0.01], "labels": false, "tickSize": -15, "tickWidth": 2, "domainWidth": 2, "title": null}}}},
{"transform": [{"filter": "datum.alpha == 5"}], "mark": {"type": "line", "color": "black", "strokeWidth": 1.5, "strokeDash": [24, 7]},
 "encoding": {
  "x": {"field": "beta", "type": "quantitative", "scale": {"domain": [0, 20], "nice": false, "zero": false}, "axis": {"orient": "bottom", "values": [0, 5, 10, 15, 20], "tickSize": -15, "tickWidth": 2, "domainWidth": 2.5, "labelFlush": false, "labelFont": "Liberation Serif", "labelFontSize": 24, "labelPadding": 40, "title": "Side slip angle β (°)", "titleFont": "Liberation Mono", "titleFontSize": 28, "titleFontWeight": "normal", "titlePadding": 12, "titleX": 243}},
  "y": {"field": "dcn", "type": "quantitative", "scale": {"domain": [-0.01, 0.0118], "nice": false, "zero": false}, "axis": null}}},
{"transform": [{"filter": "datum.alpha == 10"}], "mark": {"type": "line", "color": "black", "strokeWidth": 1.5, "strokeDash": [13, 7]},
 "encoding": {
  "x": {"field": "beta", "type": "quantitative", "scale": {"domain": [0, 20], "nice": false, "zero": false}, "axis": {"orient": "bottom", "values": [0, 5, 10, 15, 20], "tickSize": -15, "tickWidth": 2, "domainWidth": 2.5, "labelFlush": false, "labelFont": "Liberation Serif", "labelFontSize": 24, "labelPadding": 40, "title": "Side slip angle β (°)", "titleFont": "Liberation Mono", "titleFontSize": 28, "titleFontWeight": "normal", "titlePadding": 12, "titleX": 243}},
  "y": {"field": "dcn", "type": "quantitative", "scale": {"domain": [-0.01, 0.0118], "nice": false, "zero": false}, "axis": null}}},
{"mark": {"type": "point", "fill": "white", "stroke": "black", "strokeWidth": 1.7, "size": 441, "opacity": 1},
 "encoding": {
  "x": {"field": "beta", "type": "quantitative", "scale": {"domain": [0, 20], "nice": false, "zero": false}, "axis": {"orient": "bottom", "values": [0, 5, 10, 15, 20], "tickSize": -15, "tickWidth": 2, "domainWidth": 2.5, "labelFlush": false, "labelFont": "Liberation Serif", "labelFontSize": 24, "labelPadding": 40, "title": "Side slip angle β (°)", "titleFont": "Liberation Mono", "titleFontSize": 28, "titleFontWeight": "normal", "titlePadding": 12, "titleX": 243}},
  "y": {"field": "dcn", "type": "quantitative", "scale": {"domain": [-0.01, 0.0118], "nice": false, "zero": false}, "axis": null},
  "shape": {"field": "alpha", "type": "nominal", "scale": {"domain": [0, 5, 10], "range": ["circle", "triangle-up", "triangle-down"]}, "legend": null}}},
{"mark": {"type": "point", "filled": true, "color": "black", "size": 4, "opacity": 1},
 "encoding": {
  "x": {"field": "beta", "type": "quantitative", "scale": {"domain": [0, 20], "nice": false, "zero": false}, "axis": {"orient": "bottom", "values": [0, 5, 10, 15, 20], "tickSize": -15, "tickWidth": 2, "domainWidth": 2.5, "labelFlush": false, "labelFont": "Liberation Serif", "labelFontSize": 24, "labelPadding": 40, "title": "Side slip angle β (°)", "titleFont": "Liberation Mono", "titleFontSize": 28, "titleFontWeight": "normal", "titlePadding": 12, "titleX": 243}},
  "y": {"field": "dcn", "type": "quantitative", "scale": {"domain": [-0.01, 0.0118], "nice": false, "zero": false}, "axis": null}}},
{"data": {"name": "labels"}, "transform": [{"filter": "datum.panel == 8"}], "mark": {"type": "text", "font": "Liberation Mono", "fontSize": 32, "align": "center", "baseline": "middle", "dy": 3, "color": "black"},
 "encoding": {"x": {"datum": 25.4, "type": "quantitative", "scale": {"domain": [0, 20], "nice": false, "zero": false}, "axis": {"orient": "bottom", "values": [0, 5, 10, 15, 20], "tickSize": -15, "tickWidth": 2, "domainWidth": 2.5, "labelFlush": false, "labelFont": "Liberation Serif", "labelFontSize": 24, "labelPadding": 40, "title": "Side slip angle β (°)", "titleFont": "Liberation Mono", "titleFontSize": 28, "titleFontWeight": "normal", "titlePadding": 12, "titleX": 243}}, "y": {"datum": 0, "type": "quantitative", "scale": {"domain": [-0.01, 0.0118], "nice": false, "zero": false}, "axis": null}, "text": {"field": "fin"}}},
{"data": {"name": "labels"}, "transform": [{"filter": "datum.panel == 8"}], "mark": {"type": "text", "font": "Liberation Mono", "fontSize": 32, "align": "left", "baseline": "middle", "dy": 3, "color": "black"},
 "encoding": {"x": {"datum": 31.4, "type": "quantitative", "scale": {"domain": [0, 20], "nice": false, "zero": false}, "axis": {"orient": "bottom", "values": [0, 5, 10, 15, 20], "tickSize": -15, "tickWidth": 2, "domainWidth": 2.5, "labelFlush": false, "labelFont": "Liberation Serif", "labelFontSize": 24, "labelPadding": 40, "title": "Side slip angle β (°)", "titleFont": "Liberation Mono", "titleFontSize": 28, "titleFontWeight": "normal", "titlePadding": 12, "titleX": 243}}, "y": {"datum": 0, "type": "quantitative", "scale": {"domain": [-0.01, 0.0118], "nice": false, "zero": false}, "axis": null}, "text": {"field": "position"}}}
],
"resolve": {"axis": {"y": "independent"}}
}
]
}
